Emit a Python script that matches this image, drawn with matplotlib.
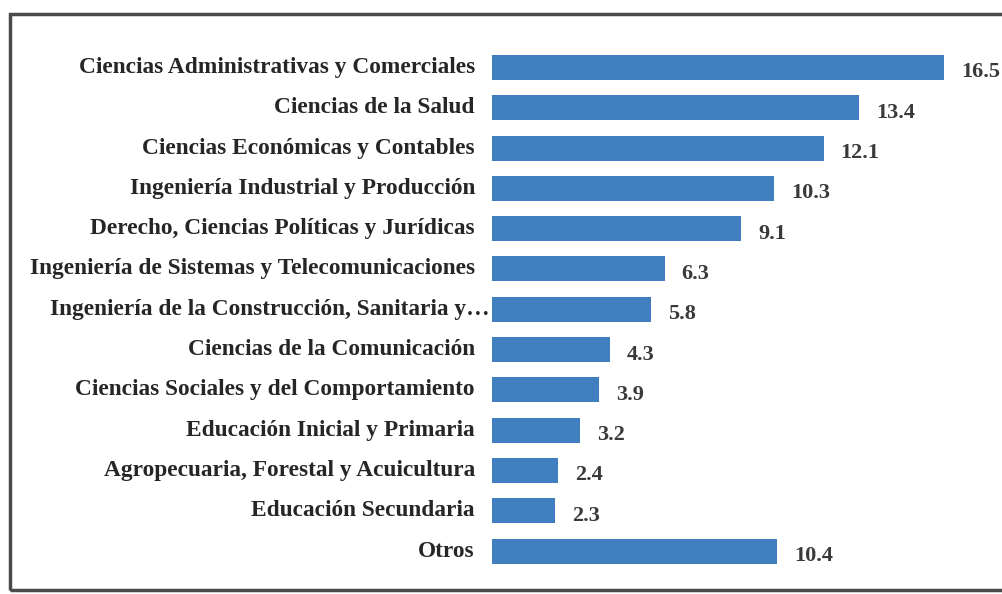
import matplotlib.pyplot as plt
import matplotlib.transforms as mtransforms
from matplotlib.patches import Rectangle

categories = [
    "Ciencias Administrativas y Comerciales",
    "Ciencias de la Salud",
    "Ciencias Económicas y Contables",
    "Ingeniería Industrial y Producción",
    "Derecho, Ciencias Políticas y Jurídicas",
    "Ingeniería de Sistemas y Telecomunicaciones",
    "Ingeniería de la Construcción, Sanitaria y…",
    "Ciencias de la Comunicación",
    "Ciencias Sociales y del Comportamiento",
    "Educación Inicial y Primaria",
    "Agropecuaria, Forestal y Acuicultura",
    "Educación Secundaria",
    "Otros",
]
values = [16.5, 13.4, 12.1, 10.3, 9.1, 6.3, 5.8, 4.3, 3.9, 3.2, 2.4, 2.3, 10.4]

bar_color = "#3f7fbf"
text_color = "#262626"
font = ["Liberation Serif", "DejaVu Serif"]

fig = plt.figure(figsize=(10.03, 5.94), dpi=100)
ax = fig.add_axes([492 / 1003, 0.0384, 511 / 1003, 0.882])

ypos = list(range(len(categories)))
ax.barh(ypos, values, height=0.62, color=bar_color, edgecolor="none")
ax.set_xlim(0, 18.65)
ax.set_ylim(len(categories) - 0.5, -0.5)
ax.axis("off")

# category labels, right aligned left of the bars
trans = mtransforms.blended_transform_factory(ax.transAxes, ax.transData)
for i, (cat, v) in enumerate(zip(categories, values)):
    dx = -2 if cat.endswith("…") else -17
    t = mtransforms.offset_copy(trans, fig=fig, x=dx, y=0, units="dots")
    ax.text(0, i, cat, transform=t, ha="right", va="center",
            fontsize=16.8, fontweight="bold", family=font, color=text_color)
    tv = mtransforms.offset_copy(ax.transData, fig=fig, x=17, y=-5, units="dots")
    ax.text(v, i, f"{v:.1f}", transform=tv, ha="left", va="center",
            fontsize=16, fontweight="bold", family=font, color="#3a3a3a")

# scanned frame around the chart
fig.patches.append(Rectangle((10 / 1003, 4 / 594), 1.1, 576 / 594,
                             transform=fig.transFigure, fill=False,
                             edgecolor="#4a4a4a", linewidth=2.5))

fig.savefig("out.png", dpi=100)
